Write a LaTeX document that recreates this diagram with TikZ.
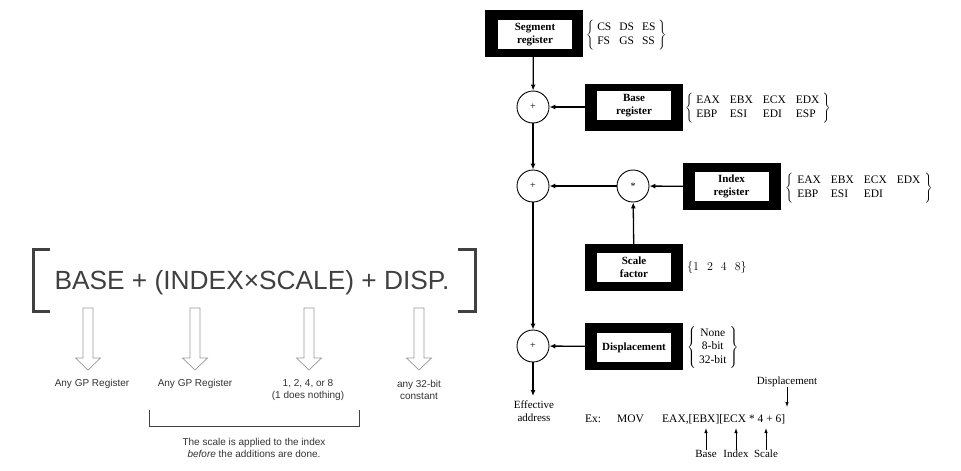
\documentclass[tikz,border=0pt]{standalone}
\usepackage{fontspec}
\setmainfont{Liberation Serif}
\newfontfamily\helv{Liberation Sans}
\usetikzlibrary{arrows.meta}
\tikzset{
  regbox/.style={fill=black, draw=black, minimum width=97pt, minimum height=46pt, inner sep=0pt},
  regtxt/.style={fill=white, minimum width=74pt, minimum height=29pt, inner sep=0pt, align=center,
                 font=\fontsize{11}{13}\selectfont\bfseries},
  op/.style={circle, draw, line width=0.9pt, minimum size=32pt, inner sep=0pt, font=\fontsize{10}{10}\selectfont},
  conn/.style={line width=1.3pt, -{Latex[length=6pt,width=5pt]}},
  thin/.style={line width=0.8pt, -{Latex[length=5pt,width=3.5pt]}},
  settxt/.style={font=\fontsize{11.5}{13.5}\selectfont, inner sep=0pt, anchor=west},
  serif/.style={font=\fontsize{11}{13}\selectfont, inner sep=0pt, align=center},
  hollow/.style={draw=black!40, fill=white, line width=0.7pt},
  lbl/.style={font=\helv\fontsize{10}{12}\selectfont, text=black!80, align=center, inner sep=0pt},
}
\begin{document}
\begin{tikzpicture}[x=1pt,y=-1pt]
\useasboundingbox[fill=white] (0,0) rectangle (961,471);

% ---------------- left part ----------------
\node[anchor=base, font=\helv\fontsize{26.3}{30}\selectfont, text=black!75, inner sep=0pt] (formula) at (252,289)
  {BASE + (INDEX×SCALE) + DISP.};
\draw[line width=3pt, black!75] (50,249) -- (33,249) -- (33,311) -- (50,311);
\draw[line width=3pt, black!75] (458,249) -- (475,249) -- (475,311) -- (458,311);

\foreach \cx in {88,195,309,419}{
  \draw[hollow] (\cx-5,308) -- (\cx+5,308) -- (\cx+5,358) -- (\cx+12.5,358) -- (\cx,370)
    -- (\cx-12.5,358) -- (\cx-5,358) -- cycle;
}
\node[lbl] (gp1) at (92,384) {Any GP Register};
\node[lbl] (gp2) at (195,384) {Any GP Register};
\node[lbl] (sc) at (308,390) {1, 2, 4, or 8\\(1 does nothing)};
\node[lbl] (k32) at (419,390) {any 32-bit\\constant};
\draw[line width=1pt, black!75] (149,410) -- (149,426) -- (359,426) -- (359,410);
\node[lbl] (note) at (254,448) {The scale is applied to the index\\\textit{before} the additions are done.};

% ---------------- right part ----------------
\node[regbox] (seg) at (533.5,33) {};
\node[regtxt] (segT) at (535,34.5) {Segment\\register};
\node[regbox] (base) at (634,107) {};
\node[regtxt] (baseT) at (634,105.5) {Base\\register};
\node[regbox] (idx) at (731.5,186.5) {};
\node[regtxt] (idxT) at (731.5,186.5) {Index\\register};
\node[regbox] (scl) at (634,267.5) {};
\node[regtxt] (sclT) at (634,267.5) {Scale\\factor};
\node[regbox] (disp) at (634,346.5) {};
\node[regtxt] (dispT) at (634,347.5) {Displacement};

\node[op] (add1) at (533,107) {+};
\node[op] (add2) at (533,186) {+};
\node[op] (mul) at (633,186) {*};
\node[op] (add3) at (533,346) {+};
\coordinate (ea) at (533,396);

\draw[conn] (seg) -- (add1);
\draw[conn] (base) -- (add1);
\draw[conn] (add1) -- (add2);
\draw[conn] (idx) -- (mul);
\draw[conn] (mul) -- (add2);
\draw[conn] (scl) -- (mul);
\draw[conn] (add2) -- (add3);
\draw[conn] (disp) -- (add3);
\draw[conn] (add3) -- (ea);

\node[settxt] (segset) at (586,35) {$\left\{\begin{tabular}{@{\hspace{3pt}}l@{\hspace{8pt}}l@{\hspace{8pt}}l@{\hspace{3pt}}}CS&DS&ES\\FS&GS&SS\end{tabular}\right\}$};
\node[settxt] (baseset) at (685,108) {$\left\{\begin{tabular}{@{\hspace{3pt}}l@{\hspace{10pt}}l@{\hspace{10pt}}l@{\hspace{10pt}}l@{\hspace{3pt}}}EAX&EBX&ECX&EDX\\EBP&ESI&EDI&ESP\end{tabular}\right\}$};
\node[settxt] (idxset) at (785,188) {$\left\{\begin{tabular}{@{\hspace{4pt}}l@{\hspace{10pt}}l@{\hspace{10pt}}l@{\hspace{10pt}}l@{\hspace{4pt}}}EAX&EBX&ECX&EDX\\EBP&ESI&EDI&\end{tabular}\right\}$};
\node[settxt] (sclset) at (687,267) {$\left\{1\hspace{8pt}2\hspace{8pt}4\hspace{8pt}8\right\}$};
\node[settxt] (dispset) at (687,347) {$\left\{\begin{tabular}{@{\hspace{3pt}}c@{\hspace{3pt}}}None\\8-bit\\32-bit\end{tabular}\right\}$};

\node[serif] (eff) at (534,411) {Effective\\address};
\node[serif, anchor=base west, font=\fontsize{11.5}{13}\selectfont] (ex) at (585,422) {Ex:};
\node[serif, anchor=base west, font=\fontsize{11.5}{13}\selectfont] (mov) at (617,422) {MOV};
\node[serif, anchor=base west, font=\fontsize{11.5}{13}\selectfont] (instr) at (662,422) {EAX,[EBX][ECX * 4 + 6]};

\node[serif] (dlbl) at (787,382) {Displacement};
\node[serif] (lb) at (706,454) {Base};
\node[serif] (li) at (736,454) {Index};
\node[serif] (ls) at (766,454) {Scale};
\coordinate (pD) at (787,407);
\coordinate (pB) at (706,428);
\coordinate (pI) at (736,428);
\coordinate (pS) at (766,428);
\draw[thin] (dlbl) -- (pD);
\draw[thin] (lb) -- (pB);
\draw[thin] (li) -- (pI);
\draw[thin] (ls) -- (pS);
\end{tikzpicture}
\end{document}
